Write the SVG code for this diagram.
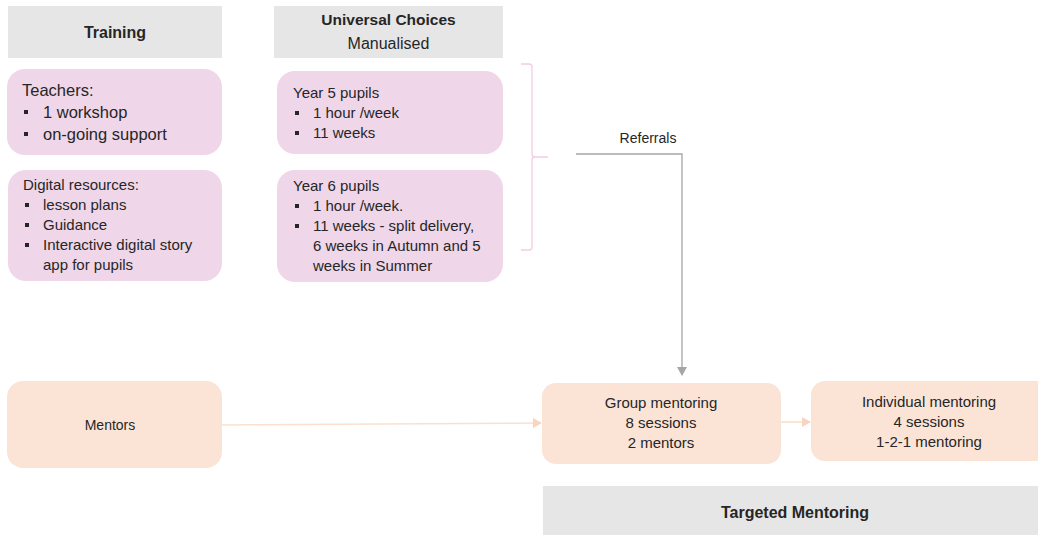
<svg xmlns="http://www.w3.org/2000/svg" width="1038" height="535" viewBox="0 0 1038 535">
<defs>
<style>
.hdr{fill:#e7e6e6}
.pink{fill:#f0d6e9}
.peach{fill:#fbe4d6}
text{font-family:"Liberation Sans",Arial,sans-serif;fill:#262626}
.b{font-weight:bold;font-size:16px}
.t15{font-size:15px}
.t16{font-size:16.5px}
.t14{font-size:14px}
.mid{text-anchor:middle}
.bul{fill:#262626}
.gray{stroke:#a6a6a6;stroke-width:1.3;fill:none}
.pk{stroke:#f4cbe3;stroke-width:1.3;fill:none}
.pe{stroke:#fbe0cf;stroke-width:1.6;fill:none}
</style>
<marker id="ag" markerWidth="10" markerHeight="10" refX="8" refY="5" orient="auto" markerUnits="userSpaceOnUse"><path d="M0,0 L9,5 L0,10 Z" fill="#a6a6a6"/></marker>
<marker id="ap" markerWidth="10" markerHeight="10" refX="8" refY="5" orient="auto" markerUnits="userSpaceOnUse"><path d="M0,0 L9,5 L0,10 Z" fill="#f8d5c0"/></marker>
</defs>
<rect width="1038" height="535" fill="#ffffff"/>

<g id="training-header">
<rect class="hdr" x="8" y="6" width="214" height="52"/>
<text class="b mid" x="115" y="38">Training</text>
</g>

<g id="teachers">
<rect class="pink" x="7" y="69" width="215" height="86" rx="18"/>
<text class="t16" x="22" y="96">Teachers:</text>
<rect class="bul" x="24" y="110" width="4" height="4"/>
<text class="t16" x="43" y="118">1 workshop</text>
<rect class="bul" x="24" y="132" width="4" height="4"/>
<text class="t16" x="43" y="140">on-going support</text>
</g>

<g id="digital">
<rect class="pink" x="8" y="170" width="214" height="111" rx="18"/>
<text class="t15" x="23" y="190">Digital resources:</text>
<rect class="bul" x="25" y="203" width="4" height="4"/>
<text class="t15" x="43" y="210">lesson plans</text>
<rect class="bul" x="25" y="223" width="4" height="4"/>
<text class="t15" x="43" y="230">Guidance</text>
<rect class="bul" x="25" y="243" width="4" height="4"/>
<text class="t15" x="43" y="250">Interactive digital story</text>
<text class="t15" x="43" y="270">app for pupils</text>
</g>

<g id="universal-header">
<rect class="hdr" x="274" y="6" width="229" height="52"/>
<text class="b mid" x="388.5" y="25" style="font-size:15.5px">Universal Choices</text>
<text class="mid" x="388.5" y="49" style="font-size:16px">Manualised</text>
</g>

<g id="year5">
<rect class="pink" x="277" y="71" width="226" height="83" rx="18"/>
<text class="t15" x="293" y="98">Year 5 pupils</text>
<rect class="bul" x="295" y="111" width="4" height="4"/>
<text class="t15" x="313" y="118">1 hour /week</text>
<rect class="bul" x="295" y="131" width="4" height="4"/>
<text class="t15" x="313" y="138">11 weeks</text>
</g>

<g id="year6">
<rect class="pink" x="277" y="170" width="226" height="112" rx="18"/>
<text class="t15" x="293" y="191">Year 6 pupils</text>
<rect class="bul" x="295" y="204" width="4" height="4"/>
<text class="t15" x="313" y="211">1 hour /week.</text>
<rect class="bul" x="295" y="224" width="4" height="4"/>
<text class="t15" x="313" y="231">11 weeks - split delivery,</text>
<text class="t15" x="313" y="251">6 weeks in Autumn and 5</text>
<text class="t15" x="313" y="271">weeks in Summer</text>
</g>

<g id="mentors">
<rect class="peach" x="7" y="381" width="215" height="87" rx="16"/>
<text class="t14 mid" x="110" y="430">Mentors</text>
</g>

<g id="group-mentoring">
<rect class="peach" x="542" y="383" width="239" height="81" rx="14"/>
<text class="t15 mid" x="661" y="408">Group mentoring</text>
<text class="t15 mid" x="661" y="428">8 sessions</text>
<text class="t15 mid" x="661" y="448">2 mentors</text>
</g>

<g id="individual-mentoring">
<rect class="peach" x="811" y="381" width="245" height="80" rx="14"/>
<text class="t15 mid" x="929" y="407">Individual mentoring</text>
<text class="t15 mid" x="929" y="427">4 sessions</text>
<text class="t15 mid" x="929" y="447">1-2-1 mentoring</text>
</g>

<g id="targeted-header">
<rect class="hdr" x="543" y="486" width="500" height="55"/>
<text class="b mid" x="795" y="518">Targeted Mentoring</text>
</g>

<g id="connectors">
<path class="pk" d="M521,64 H529 Q532,64 532,67 V154 Q532,157 535,157 H548 M535,157 Q532,157 532,160 V247 Q532,250 529,250 H521"/>
<path class="gray" d="M576,154 H682 V375" marker-end="url(#ag)"/>
<text class="t14 mid" x="648" y="143">Referrals</text>
<path class="pe" d="M222,425 L541,423" marker-end="url(#ap)"/>
<path class="pe" d="M781,422 L810,422" marker-end="url(#ap)"/>
</g>
</svg>
